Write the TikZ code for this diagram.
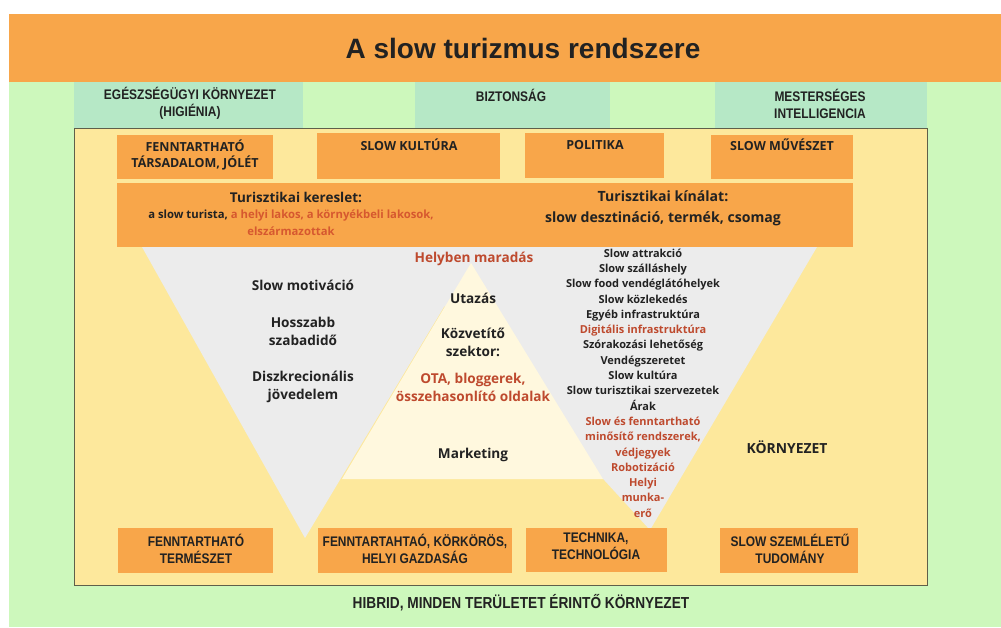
\documentclass[tikz,border=0pt]{standalone}
\usepackage{fontspec}
\setmainfont{Open Sans}
\newfontfamily\condfont[FakeStretch=0.86, BoldFont={Liberation Sans Bold}, BoldFeatures={FakeStretch=0.86}]{Liberation Sans}
\newfontfamily\titlefont{Liberation Sans}
\definecolor{orangeT}{HTML}{F8A64A}
\definecolor{greenbg}{HTML}{CDF8BC}
\definecolor{mint}{HTML}{B6E8C6}
\definecolor{yellowbox}{HTML}{FDE89C}
\definecolor{greytri}{HTML}{ECECEC}
\definecolor{cream}{HTML}{FFF8DE}
\definecolor{txt}{HTML}{222222}
\definecolor{redt}{HTML}{BE4A2E}
\definecolor{redk}{HTML}{D6582F}
\definecolor{frame}{HTML}{5F5F4A}
\tikzset{
  obox/.style={fill=orangeT, draw=none, inner sep=0pt},
  mbox/.style={fill=mint, draw=none, inner sep=0pt},
  captxt/.style={text=txt, inner sep=0pt, align=center, font=\condfont\bfseries\fontsize{13.9}{17}\selectfont},
  otxt/.style={text=txt, inner sep=0pt, align=center, font=\bfseries\fontsize{12.5}{16}\selectfont},
  mtxt/.style={text=txt, inner sep=0pt, align=center, font=\bfseries\fontsize{13.6}{18}\selectfont},
  ltxt/.style={text=txt, inner sep=0pt, align=center, font=\bfseries\fontsize{11}{15.3}\selectfont},
}
\begin{document}
\begin{tikzpicture}[x=1pt,y=-1pt]
\useasboundingbox (0,0) rectangle (1001,627);
\fill[white] (0,0) rectangle (1001,627);
% background
\fill[greenbg] (9,82) rectangle (1001,627);
\node[fill=orangeT, inner sep=0pt, minimum width=992pt, minimum height=68pt] (band) at (505,48) {};
\node[text=txt, inner sep=0pt, font=\titlefont\bfseries\fontsize{28}{32}\selectfont] (title) at (523,48) {A slow turizmus rendszere};
% mint boxes
\node[mbox, minimum width=229pt, minimum height=46pt] (m1) at (188.5,105) {};
\node[mbox, minimum width=195pt, minimum height=46pt] (m2) at (512.5,105) {};
\node[mbox, minimum width=212pt, minimum height=46pt] (m3) at (821,105) {};
\node[captxt] (m1t) at (190,103.5) {EGÉSZSÉGÜGYI KÖRNYEZET\\(HIGIÉNIA)};
\node[captxt] (m2t) at (511,95) {BIZTONSÁG};
\node[captxt] (m3t) at (820,103.5) {MESTERSÉGES\\INTELLIGENCIA};
% inner yellow frame
\node[fill=yellowbox, draw=frame, line width=0.8pt, inner sep=0pt, minimum width=853pt, minimum height=457pt] (frame) at (500.5,356.5) {};
% top orange row
\node[obox, minimum width=156pt, minimum height=44pt] (o1) at (195,157) {};
\node[obox, minimum width=183pt, minimum height=46pt] (o2) at (408.5,156) {};
\node[obox, minimum width=139pt, minimum height=45pt] (o3) at (594.5,155.5) {};
\node[obox, minimum width=142pt, minimum height=44pt] (o4) at (782,157) {};
\node[otxt] (o1t) at (195,155) {FENNTARTHATÓ\\TÁRSADALOM, JÓLÉT};
\node[otxt] (o2t) at (409,145) {SLOW KULTÚRA};
\node[otxt] (o3t) at (595,145) {POLITIKA};
\node[otxt] (o4t) at (782,145) {SLOW MŰVÉSZET};
% grey triangles and cream triangle
\fill[greytri] (142,247) -- (480,247) -- (305,538) -- cycle;
\fill[greytri] (390,247) -- (817,247) -- (650,530) -- cycle;
\fill[cream] (471,263) -- (342,479) -- (603,479) -- cycle;
% demand / supply
\node[obox, minimum width=358pt, minimum height=64pt] (dem) at (296,215) {};
\node[obox, minimum width=378pt, minimum height=64pt] (sup) at (664,215) {};
\node[text=txt, inner sep=0pt, font=\bfseries\fontsize{13.5}{17}\selectfont] (demt) at (296,197) {Turisztikai kereslet:};
\node[text=txt, inner sep=0pt, align=center, font=\bfseries\fontsize{11.3}{17}\selectfont] (demt2) at (291,222.5) {a slow turista, \textcolor{redk}{a helyi lakos, a környékbeli lakosok,}\\\textcolor{redk}{elszármazottak}};
\node[text=txt, inner sep=0pt, align=center, font=\bfseries\fontsize{14.1}{21}\selectfont] (supt) at (663,208.5) {Turisztikai kínálat:\\slow desztináció, termék, csomag};
% left triangle text
\node[mtxt] (lt1) at (303,285) {Slow motiváció};
\node[mtxt] (lt2) at (303,331) {Hosszabb\\szabadidő};
\node[mtxt] (lt3) at (303,387) {Diszkrecionális\\jövedelem};
% middle text
\node[mtxt, text=redt] (c0) at (474,259) {Helyben maradás};
\node[mtxt] (c1) at (473,298) {Utazás};
\node[mtxt] (c2) at (473,342) {Közvetítő\\szektor:};
\node[mtxt, text=redt] (c3) at (473,387) {OTA, bloggerek,\\összehasonlító oldalak};
\node[mtxt] (c4) at (473,455) {Marketing};
% right list
\node[ltxt] (rl) at (643,383) {Slow attrakció\\Slow szálláshely\\Slow food vendéglátóhelyek\\Slow közlekedés\\Egyéb infrastruktúra\\\textcolor{redt}{Digitális infrastruktúra}\\Szórakozási lehetőség\\Vendégszeretet\\Slow kultúra\\Slow turisztikai szervezetek\\Árak\\\textcolor{redt}{Slow és fenntartható}\\\textcolor{redt}{minősítő rendszerek,}\\\textcolor{redt}{védjegyek}\\\textcolor{redt}{Robotizáció}\\\textcolor{redt}{Helyi}\\\textcolor{redt}{munka-}\\\textcolor{redt}{erő}};
\node[text=txt, inner sep=0pt, font=\bfseries\fontsize{13.9}{15}\selectfont] (env) at (787,447) {KÖRNYEZET};
% bottom row
\node[obox, minimum width=155pt, minimum height=45pt] (b1) at (195.5,550.5) {};
\node[obox, minimum width=194pt, minimum height=45pt] (b2) at (415,550.5) {};
\node[obox, minimum width=141pt, minimum height=44pt] (b3) at (596.5,550) {};
\node[obox, minimum width=138pt, minimum height=45pt] (b4) at (789,550.5) {};
\node[captxt] (b1t) at (196,549) {FENNTARTHATÓ\\TERMÉSZET};
\node[captxt] (b2t) at (415,549) {FENNTARTAHTAÓ, KÖRKÖRÖS,\\HELYI GAZDASÁG};
\node[captxt] (b3t) at (596,546.5) {TECHNIKA,\\TECHNOLÓGIA};
\node[captxt] (b4t) at (790,549) {SLOW SZEMLÉLETŰ\\TUDOMÁNY};
\node[captxt, font=\condfont\bfseries\fontsize{15.9}{17}\selectfont] (hib) at (521,603) {HIBRID, MINDEN TERÜLETET ÉRINTŐ KÖRNYEZET};
\end{tikzpicture}
\end{document}
